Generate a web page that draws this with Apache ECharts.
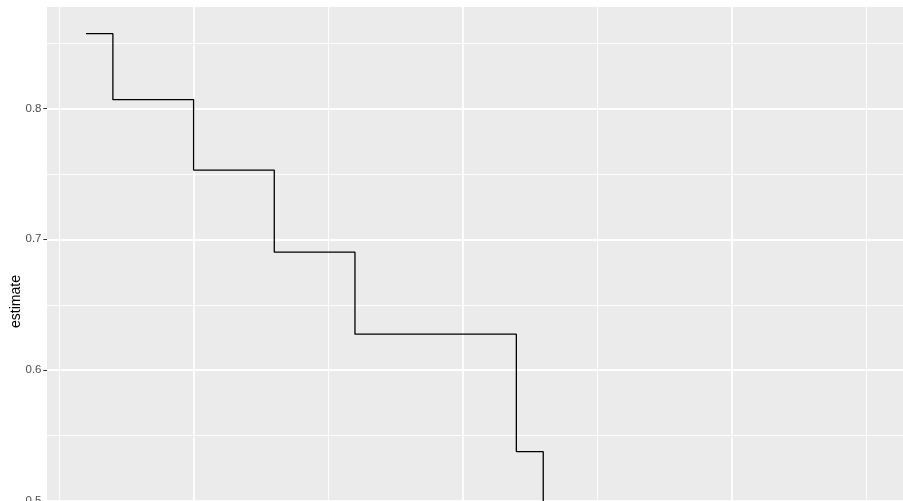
<!DOCTYPE html>
<html>
<head>
<meta charset="utf-8">
<script src="https://cdn.jsdelivr.net/npm/echarts@6/dist/echarts.min.js"></script>
<style>
  html, body { margin: 0; padding: 0; background: #ffffff; }
  #chart { width: 903px; height: 501px; }
</style>
</head>
<body>
<div id="chart"></div>
<script>
// Kaplan-Meier survival estimate (time, estimate)
const times = [6, 7, 9, 10, 11, 13, 16, 17, 19, 20, 22, 23, 25, 32, 34, 35];
const estimates = [0.8571, 0.8067, 0.8067, 0.7529, 0.7529, 0.6902, 0.6275, 0.6275,
                   0.6275, 0.6275, 0.5378, 0.4482, 0.4482, 0.4482, 0.4482, 0.4482];

// axis breaks
const yTicks = [0.5, 0.6, 0.7, 0.8];
const yMinor = [0.45, 0.55, 0.65, 0.75, 0.85];
const xMajor = [10, 20, 30];
const xMinor = [5, 15, 25, 35];

const xRange = [4.55, 36.45];
const yRange = [0.4275, 0.8775];

const FONT = '"Liberation Sans", Arial, Helvetica, sans-serif';

const gridLine = (axis, v, w) => ({
  [axis]: v,
  lineStyle: { color: '#ffffff', width: w, type: 'solid' }
});

const gridMarks = []
  .concat(yMinor.map(v => gridLine('yAxis', v, 0.9)))
  .concat(xMinor.map(v => gridLine('xAxis', v, 0.9)))
  .concat(yTicks.map(v => gridLine('yAxis', v, 1.8)))
  .concat(xMajor.map(v => gridLine('xAxis', v, 1.8)));

const chart = echarts.init(document.getElementById('chart'), null, { renderer: 'canvas' });

chart.setOption({
  animation: false,
  backgroundColor: '#ffffff',
  grid: {
    left: 47, top: 7, width: 858, height: 589,
    outerBoundsMode: 'none',
    show: true, backgroundColor: '#EBEBEB', borderWidth: 0,
    containLabel: false
  },
  xAxis: {
    type: 'value',
    min: xRange[0], max: xRange[1],
    axisLine: { show: false },
    axisTick: { show: false },
    axisLabel: { show: false },
    splitLine: { show: false }
  },
  yAxis: {
    type: 'value',
    min: yRange[0], max: yRange[1],
    name: 'estimate',
    nameLocation: 'middle',
    nameRotate: 90,
    nameGap: 23.5,
    nameMoveOverlap: false,
    nameTextStyle: { color: '#000000', fontSize: 14, fontFamily: FONT },
    axisLine: { show: false },
    axisTick: {
      show: true, length: 3.7, inside: false,
      customValues: yTicks,
      lineStyle: { color: '#333333', width: 1 }
    },
    axisLabel: {
      show: true, margin: 5.5,
      customValues: yTicks,
      formatter: v => v.toFixed(1),
      color: '#4D4D4D', fontSize: 11.5, fontFamily: FONT
    },
    splitLine: { show: false }
  },
  series: [
    {
      name: 'grid',
      type: 'line',
      data: [],
      z: 1,
      silent: true,
      markLine: {
        z: 1,
        silent: true,
        symbol: ['none', 'none'],
        label: { show: false },
        animation: false,
        data: gridMarks
      }
    },
    {
      name: 'estimate',
      type: 'line',
      step: 'end',
      z: 10,
      showSymbol: false,
      symbol: 'none',
      data: times.map((t, i) => [t, estimates[i]]),
      lineStyle: { color: '#000000', width: 1.3 }
    }
  ]
});
</script>
</body>
</html>
